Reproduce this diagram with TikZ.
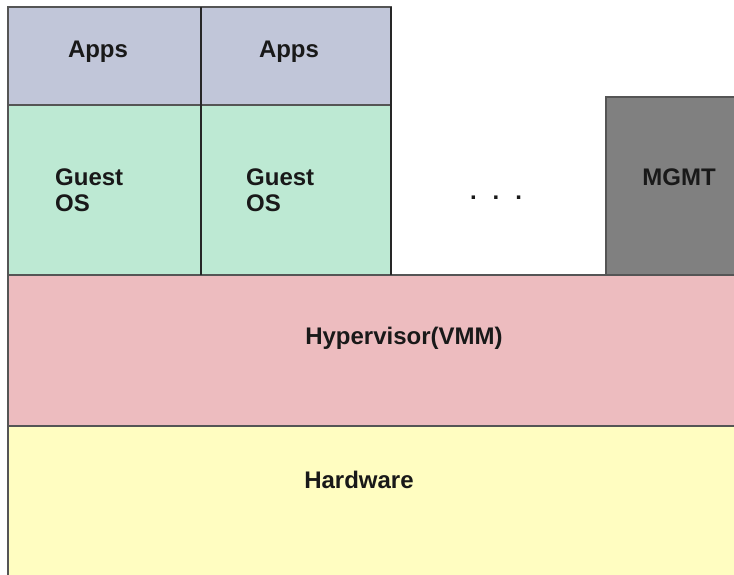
\documentclass[tikz,border=0pt]{standalone}
\usepackage{fontspec}
\setmainfont{Liberation Sans}
\definecolor{appsc}{HTML}{C1C6D9}
\definecolor{guestc}{HTML}{BDE9D3}
\definecolor{hypc}{HTML}{EDBCBF}
\definecolor{hwc}{HTML}{FFFDC1}
\definecolor{mgmtc}{HTML}{808080}
\definecolor{edgec}{HTML}{555555}
\begin{document}
\begin{tikzpicture}[x=1pt,y=-1pt,
  layer/.style={draw=edgec, line width=1.5pt, rectangle, inner sep=0pt, outer sep=0pt, anchor=north west},
  lbl/.style={font=\bfseries\fontsize{24}{26}\selectfont, text=black!90, inner sep=0pt}]
\useasboundingbox (0,0) rectangle (734,575);
\fill[white] (0,0) rectangle (734,575);
% layers
\node[layer, fill=hwc, minimum width=740pt, minimum height=160pt] (hw) at (8,426) {};
\node[layer, fill=hypc, minimum width=740pt, minimum height=151pt] (hyp) at (8,275) {};
\node[layer, fill=guestc, minimum width=193pt, minimum height=170pt] (os1) at (8,105) {};
\node[layer, fill=guestc, minimum width=190pt, minimum height=170pt] (os2) at (201,105) {};
\node[layer, fill=appsc, minimum width=193pt, minimum height=98pt] (apps1) at (8,7) {};
\node[layer, fill=appsc, minimum width=190pt, minimum height=98pt] (apps2) at (201,7) {};
\node[layer, fill=mgmtc, minimum width=140pt, minimum height=178pt] (mgmt) at (606,97) {};
% darker vertical dividers
\draw[black!85, line width=1.5pt] (apps1.north east) -- (os1.south east);
\draw[black!85, line width=1.5pt] (apps2.north east) -- (os2.south east);
% labels
\node[lbl] (tapps1) at (98,52) {Apps};
\node[lbl] (tapps2) at (289,52) {Apps};
\node[lbl, anchor=west, align=left] (tos1) at (55,190) {Guest\\OS};
\node[lbl, anchor=west, align=left] (tos2) at (246,190) {Guest\\OS};
\node[lbl] (tdots) at (496,198) {.\hspace{16pt}.\hspace{16pt}.};
\node[lbl] (tmgmt) at (679,177) {MGMT};
\node[lbl] (thyp) at (404,338) {Hypervisor(VMM)};
\node[lbl] (thw) at (359,480) {Hardware};
\end{tikzpicture}
\end{document}
